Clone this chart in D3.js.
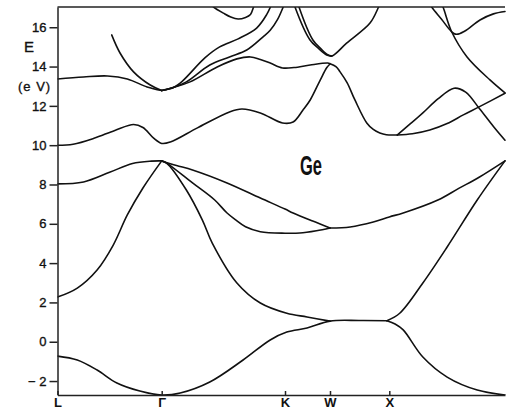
<!DOCTYPE html>
<html>
<head>
<meta charset="utf-8">
<script src="https://cdn.jsdelivr.net/npm/d3@7"></script>
<style>
  body { margin: 0; background: #fff; }
  svg { display: block; }
  .band { fill: none; stroke: #111; stroke-width: 1.6; stroke-linejoin: round; stroke-linecap: round; }
  .axis path, .axis line { stroke: #222; stroke-width: 1.5; }
  .axis text { font-family: "Liberation Sans", Arial, sans-serif; font-size: 13px; fill: #111; stroke: #111; stroke-width: 0.35; }
  .kaxis text { font-weight: bold; stroke-width: 0; }
</style>
</head>
<body>
<script>
// symmetry points along the k-path (the last Gamma sits on the right edge, unlabeled)
var kLabels = ["L", "\u0393", "K", "W", "X"];
var kPos = [0, 1, 2, 3, 4];
var eTicks = [-2, 0, 2, 4, 6, 8, 10, 12, 14, 16];

// bands as [path position, energy eV]; path position = index of symmetry point + fraction

// valence bands
var val1 = [[0,-0.73],[0.19,-0.93],[0.38,-1.44],[0.57,-2.10],[0.79,-2.51],[1,-2.71],[1.15,-2.61],[1.39,-2.05],[1.66,-0.93],[1.88,0.09],[2.04,0.49],[2.49,0.70],[3,1.05],[3.5,1.08],[3.96,1.07]];
var val1X = [[3.96,1.07],[4.05,0.9],[4.12,0.60],[4.29,-0.78],[4.50,-1.80],[4.76,-2.46],[5,-2.71]];
var val2X = [[3.96,1.07],[4.09,1.45],[4.29,2.99],[4.50,4.82],[4.76,7.21],[5,9.2]];
var val2L = [[0,2.27],[0.19,2.73],[0.38,3.65],[0.535,4.92],[0.67,6.45],[0.82,7.82],[1,9.2]];
var val2K = [[1,9.2],[1.04,9.09],[1.2,7.72],[1.33,6.19],[1.41,5.02],[1.61,2.99],[1.8,1.97],[2.04,1.45],[2.49,1.26],[3,1.05]];
var val34L = [[0,8.03],[0.25,8.13],[0.5,8.62],[0.72,9.07],[0.9,9.19],[1,9.2]];
var val3K = [[1,9.2],[1.04,9.09],[1.25,8.08],[1.43,7.21],[1.53,6.55],[1.6,6.2],[1.68,5.85],[1.8,5.6],[2,5.52],[2.33,5.53],[2.7,5.65],[3,5.79]];
var val4K = [[1,9.2],[1.12,8.97],[1.25,8.74],[1.53,8.08],[1.8,7.31],[2,6.75],[2.18,6.55],[2.6,6.15],[3,5.79]];
var val34X = [[3,5.79],[3.34,5.84],[3.73,6.09],[4,6.35],[4.12,6.55],[4.42,7.21],[4.6,7.8],[4.78,8.38],[5,9.2]];

// conduction bands
var con1 = [[0,10.0],[0.15,10.05],[0.35,10.35],[0.55,10.75],[0.73,11.05],[0.82,10.9],[0.92,10.37],[1,10.09],[1.07,10.16],[1.29,10.88],[1.55,11.69],[1.65,11.84],[1.8,11.64],[1.98,11.13],[2.18,11.18],[2.4,11.79],[2.56,12.3],[2.78,13.3],[2.93,13.95],[3,14.13]];
var conL13 = [[0,13.37],[0.25,13.47],[0.48,13.52],[0.67,13.37],[0.86,12.96],[1,12.78]];
var conSteep = [[0.52,15.61],[0.6,14.69],[0.73,13.73],[0.89,13.06],[1,12.78]];
var conG1 = [[1,12.78],[1.1,12.95],[1.17,13.27],[1.35,14.44],[1.47,15.0],[1.62,15.41],[1.77,15.96],[1.85,16.63],[1.9,17.3]];
var conG2 = [[1,12.78],[1.1,12.95],[1.2,13.22],[1.39,14.08],[1.55,14.49],[1.69,14.84],[1.82,15.5],[1.88,15.85],[1.94,16.4],[1.99,17.1],[2.01,17.3]];
var conG3 = [[1,12.78],[1.1,12.95],[1.23,13.22],[1.45,13.98],[1.61,14.39],[1.72,14.49],[1.8,14.36],[1.88,14.18],[1.98,13.93],[2.2,13.95],[2.56,14.08],[2.95,14.18],[3,14.15],[3.1,14.0],[3.17,13.73],[3.29,13.17],[3.42,12.3],[3.62,11.13],[3.73,10.8],[3.84,10.62],[3.95,10.53],[4.07,10.52]];
var conXa = [[4.07,10.52],[4.18,11.08],[4.29,11.64],[4.42,12.35],[4.56,12.9],[4.66,12.7],[4.78,11.85],[4.9,10.95],[5,10.25]];
var conXb = [[4.07,10.52],[4.2,10.58],[4.35,10.77],[4.5,11.1],[4.64,11.54],[4.78,11.96],[5,12.64]];
var conU = [[1.40,17.15],[1.42,17.03],[1.5,16.72],[1.56,16.52],[1.62,16.42],[1.68,16.5],[1.72,16.65],[1.745,17.03],[1.755,17.2]];
var conV1 = [[2.2,17.2],[2.222,17.03],[2.556,15.35],[2.733,14.95],[2.926,14.59],[3.034,14.54],[3.28,15.19],[3.675,16.21],[3.82,17.03],[3.86,17.3]];
var conV2 = [[2.29,17.2],[2.311,17.03],[2.62,15.35],[2.8,14.9],[2.95,14.6],[3.034,14.54]];
var conA = [[4.34,17.3],[4.366,17.03],[4.45,16.42],[4.539,15.77],[4.582,15.64],[4.65,15.8],[4.784,16.37],[4.9,16.68],[5,16.8]];
var conB = [[4.44,17.3],[4.464,17.03],[4.539,15.77],[4.672,14.49],[4.87,13.32],[5,12.66]];

var bands = [val1, val1X, val2X, val2L, val2K, val34L, val3K, val4K, val34X,
  con1, conL13, conSteep, conG1, conG2, conG3, conXa, conXb, conU, conV1, conV2, conA, conB];

//SVG area dimensions
var svgWidth = 506;
var svgHeight = 410;

var chartMargin = { top: 7, right: 1, bottom: 15, left: 57.5 };
var chartWidth = svgWidth - chartMargin.left - chartMargin.right;
var chartHeight = svgHeight - chartMargin.top - chartMargin.bottom;

var svg = d3.select("body")
  .append("svg")
  .attr("width", svgWidth)
  .attr("height", svgHeight);

var chartGroup = svg.append("g")
  .attr("transform", `translate(${chartMargin.left}, ${chartMargin.top})`);

// piecewise k-axis: L, Gamma, K, W, X, Gamma
var xScale = d3.scaleLinear()
  .domain([0, 1, 2, 3, 4, 5])
  .range([0, 104.2, 227.5, 272.5, 331.8, chartWidth]);

var yScale = d3.scaleLinear()
  .domain([-2.71, 17.03])
  .range([chartHeight, 0]);

// clip so curves leaving the top get cut at the frame
chartGroup.append("clipPath")
  .attr("id", "plotClip")
  .append("rect")
  .attr("x", 0)
  .attr("y", 0)
  .attr("width", chartWidth + 1)
  .attr("height", chartHeight);

var line = d3.line()
  .x(d => xScale(d[0]))
  .y(d => yScale(d[1]))
  .curve(d3.curveCatmullRom.alpha(0.5));

chartGroup.append("g")
  .attr("clip-path", "url(#plotClip)")
  .selectAll("path")
  .data(bands)
  .enter()
  .append("path")
  .attr("class", "band")
  .attr("d", line);

//axes
var leftAxis = d3.axisLeft(yScale)
  .tickValues(eTicks)
  .tickSize(8)
  .tickPadding(3)
  .tickSizeOuter(0)
  .tickFormat(d => d < 0 ? "\u2212 " + Math.abs(d) : d);

var bottomAxis = d3.axisBottom(xScale)
  .tickValues(kPos)
  .tickSize(-4)
  .tickPadding(3)
  .tickSizeOuter(0)
  .tickFormat((d, i) => kLabels[i]);

chartGroup.append("g")
  .attr("class", "axis")
  .call(leftAxis);

chartGroup.append("g")
  .attr("class", "axis kaxis")
  .attr("transform", `translate(0, ${chartHeight})`)
  .call(bottomAxis);

// top frame line
chartGroup.append("line")
  .attr("x1", 0)
  .attr("x2", chartWidth)
  .attr("y1", 0)
  .attr("y2", 0)
  .attr("stroke", "#222")
  .attr("stroke-width", 1.5);

// axis title
svg.append("text")
  .attr("x", 24)
  .attr("y", 52)
  .style("font-family", "Liberation Sans, Arial, sans-serif")
  .style("font-size", "15px")
  .attr("fill", "#111")
  .attr("stroke", "#111")
  .attr("stroke-width", 0.35)
  .text("E");

svg.append("text")
  .attr("x", 18)
  .attr("y", 91)
  .style("font-family", "Liberation Sans, Arial, sans-serif")
  .style("font-size", "13px")
  .style("letter-spacing", "1px")
  .attr("fill", "#111")
  .attr("stroke", "#111")
  .attr("stroke-width", 0.35)
  .text("(e V)");

// material label
svg.append("text")
  .attr("x", 300)
  .attr("y", 175)
  .attr("textLength", 22)
  .attr("lengthAdjust", "spacingAndGlyphs")
  .style("font-family", "Liberation Sans, Arial, sans-serif")
  .style("font-size", "27px")
  .style("font-weight", "bold")
  .attr("fill", "#111")
  .text("Ge");
</script>
</body>
</html>
